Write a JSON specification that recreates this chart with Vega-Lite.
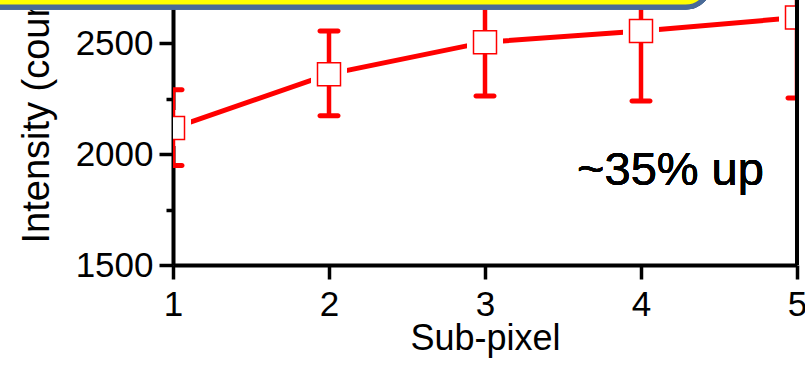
{
  "$schema": "https://vega.github.io/schema/vega-lite/v6.json",
  "width": 624,
  "height": 265,
  "autosize": {"type": "none"},
  "padding": {"left": 173, "top": 0, "right": 8, "bottom": 100},
  "background": "white",
  "config": {"view": {"stroke": null}, "font": "Liberation Sans"},
  "data": {
    "values": [
      {"sub": 1, "v": 2117, "lo": 1948, "hi": 2290},
      {"sub": 2, "v": 2360, "lo": 2172, "hi": 2554},
      {"sub": 3, "v": 2504, "lo": 2261, "hi": 2747},
      {"sub": 4, "v": 2554, "lo": 2239, "hi": 2869},
      {"sub": 5, "v": 2615, "lo": 2252, "hi": 2978}
    ]
  },
  "layer": [
    {
      "mark": {"type": "line", "color": "#ff0000", "strokeWidth": 5, "strokeCap": "round", "clip": true},
      "encoding": {
        "x": {
          "field": "sub", "type": "quantitative", "title": "Sub-pixel",
          "scale": {"domain": [1, 5], "nice": false, "zero": false},
          "axis": {
            "title": "Sub-pixel",
            "values": [1, 1.5, 2, 2.5, 3, 3.5, 4, 4.5, 5],
            "labelExpr": "datum.value % 1 === 0 ? datum.label : ''",
            "format": "d",
            "grid": false,
            "domainColor": "black", "domainWidth": 4,
            "tickColor": "black", "tickWidth": 3.5,
            "tickSize": {"condition": {"test": "datum.value % 1 !== 0", "value": 7}, "value": 14},
            "labelFont": "Liberation Sans", "labelFontSize": 35, "labelColor": "black",
            "labelBaseline": "alphabetic", "labelPadding": 36, "labelFlush": false, "labelOverlap": false,
            "titleFont": "Liberation Sans", "titleFontSize": 36, "titleFontWeight": "normal", "titleColor": "black",
            "titleBaseline": "alphabetic", "titleY": 84, "titleX": 312
          }
        },
        "y": {
          "field": "v", "type": "quantitative", "title": "Intensity (counts)",
          "scale": {"domain": [1500, 2694], "nice": false, "zero": false},
          "axis": {
            "title": "Intensity (counts)",
            "values": [1500, 1750, 2000, 2250, 2500],
            "labelExpr": "datum.value % 500 === 0 ? datum.label : ''",
            "format": "d",
            "grid": false,
            "domainColor": "black", "domainWidth": 4,
            "tickColor": "black", "tickWidth": 3.5,
            "tickSize": {"condition": {"test": "datum.value % 500 !== 0", "value": 7}, "value": 14},
            "labelFont": "Liberation Sans", "labelFontSize": 35, "labelColor": "black",
            "labelPadding": 6, "labelFlush": false, "labelOverlap": false,
            "titleFont": "Liberation Sans", "titleFontSize": 38, "titleFontWeight": "normal", "titleColor": "black",
            "titleAngle": 270, "titleAlign": "left", "titleBaseline": "alphabetic",
            "titleX": -125, "titleY": 243
          }
        }
      }
    },
    {
      "mark": {"type": "point", "shape": "square", "filled": true, "fill": "white", "opacity": 1, "size": 1296, "strokeWidth": 0, "clip": true},
      "encoding": {
        "x": {"field": "sub", "type": "quantitative", "title": "Sub-pixel"},
        "y": {"field": "v", "type": "quantitative", "title": "Intensity (counts)"}
      }
    },
    {
      "mark": {"type": "rule", "color": "#ff0000", "strokeWidth": 4.5, "clip": true},
      "encoding": {
        "x": {"field": "sub", "type": "quantitative", "title": "Sub-pixel"},
        "y": {"field": "lo", "type": "quantitative", "title": "Intensity (counts)"},
        "y2": {"field": "hi"}
      }
    },
    {
      "mark": {"type": "tick", "orient": "horizontal", "color": "#ff0000", "size": 23, "thickness": 5, "cornerRadius": 2.5, "opacity": 1, "clip": true},
      "encoding": {
        "x": {"field": "sub", "type": "quantitative", "title": "Sub-pixel"},
        "y": {"field": "lo", "type": "quantitative", "title": "Intensity (counts)"}
      }
    },
    {
      "mark": {"type": "tick", "orient": "horizontal", "color": "#ff0000", "size": 23, "thickness": 5, "cornerRadius": 2.5, "opacity": 1, "clip": true},
      "encoding": {
        "x": {"field": "sub", "type": "quantitative", "title": "Sub-pixel"},
        "y": {"field": "hi", "type": "quantitative", "title": "Intensity (counts)"}
      }
    },
    {
      "mark": {"type": "point", "shape": "square", "filled": true, "fill": "white", "stroke": "#ff0000", "opacity": 1, "size": 529, "strokeWidth": 1.5, "clip": true},
      "encoding": {
        "x": {"field": "sub", "type": "quantitative", "title": "Sub-pixel"},
        "y": {"field": "v", "type": "quantitative", "title": "Intensity (counts)"}
      }
    },
    {
      "mark": {"type": "rule", "color": "black", "strokeWidth": 4},
      "encoding": {
        "x": {"datum": 5, "type": "quantitative", "title": "Sub-pixel"}
      }
    },
    {
      "mark": {"type": "text", "text": "~35% up", "font": "Liberation Sans", "fontSize": 47, "color": "black", "align": "left", "baseline": "alphabetic"},
      "encoding": {
        "x": {"datum": 3.59, "type": "quantitative", "title": "Sub-pixel"},
        "y": {"datum": 1860, "type": "quantitative", "title": "Intensity (counts)"}
      }
    },
    {
      "mark": {"type": "rect", "fill": "#ffff00", "stroke": "#4a6b97", "strokeWidth": 5, "cornerRadius": 24, "clip": false},
      "encoding": {
        "x": {"datum": -0.3, "type": "quantitative", "title": "Sub-pixel"},
        "x2": {"datum": 4.44},
        "y": {"datum": 2662, "type": "quantitative", "title": "Intensity (counts)"},
        "y2": {"datum": 2900}
      }
    }
  ]
}
